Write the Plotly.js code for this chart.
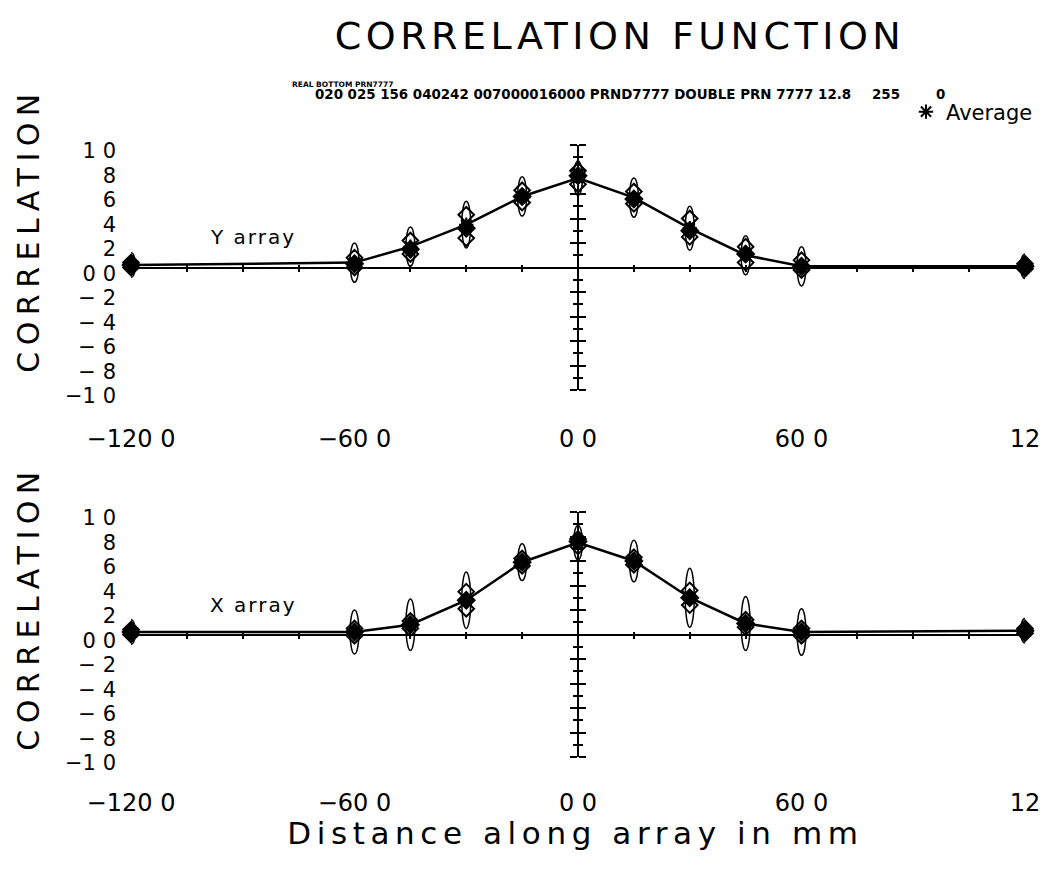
<!DOCTYPE html>
<html>
<head>
<meta charset="utf-8">
<script src="https://cdn.plot.ly/plotly-3.0.1.min.js"></script>
<style>body{margin:0;background:#fff}</style>
</head>
<body>
<div id="chart" style="width:1048px;height:878px"></div>
<script>
// ---------- data ----------
const distance = [-120, -60, -45, -30, -15, 0, 15, 30, 45, 60, 120];

const yArrayAverage = [0.02, 0.04, 0.17, 0.35, 0.58, 0.73, 0.57, 0.32, 0.10, 0.01, 0.01];
const yArrayRunA    = [0.02, 0.03, 0.15, 0.32, 0.58, 0.75, 0.56, 0.30, 0.11, 0.01, 0.01];
const yArrayRunB    = [0.04, 0.08, 0.22, 0.43, 0.63, 0.79, 0.62, 0.40, 0.17, 0.06, 0.03];
const yArrayRunC    = [0.00, 0.00, 0.11, 0.24, 0.53, 0.68, 0.52, 0.25, 0.04, -0.02, -0.01];
const yArraySpread  = [0.10, 0.16, 0.16, 0.19, 0.16, 0.14, 0.16, 0.18, 0.16, 0.16, 0.10];

const xArrayAverage = [0.02, 0.02, 0.08, 0.28, 0.59, 0.75, 0.60, 0.30, 0.09, 0.02, 0.03];
const xArrayRunA    = [0.02, 0.02, 0.08, 0.28, 0.59, 0.76, 0.60, 0.30, 0.09, 0.02, 0.03];
const xArrayRunB    = [0.04, 0.05, 0.11, 0.35, 0.62, 0.78, 0.63, 0.36, 0.12, 0.05, 0.05];
const xArrayRunC    = [0.00, -0.01, 0.05, 0.21, 0.56, 0.72, 0.57, 0.24, 0.06, -0.01, 0.01];
const xArraySpread  = [0.10, 0.18, 0.21, 0.23, 0.15, 0.14, 0.17, 0.24, 0.22, 0.19, 0.10];

const xTickValues = [-120, -60, 0, 60, 120];
const xTickLabels = ['\u2212120 0', '\u221260 0', '0 0', '60 0', '12'];
const yTickValues = [-1, -0.8, -0.6, -0.4, -0.2, 0, 0.2, 0.4, 0.6, 0.8, 1];
const yTickLabels = ['\u22121 0', '\u2212 8', '\u2212 6', '\u2212 4', '\u2212 2', '0 0', '2', '4', '6', '8', '1 0'];

const titleText = 'CORRELATION FUNCTION';
const headerLine1 = 'REAL BOTTOM PRN7777';
const headerLine2 = '020 025 156 040242 007000016000 PRND7777 DOUBLE PRN 7777 12.8';
const headerField3 = '255';
const headerField4 = '0';
const yTitleText = 'CORRELATION';
const xTitleText = 'Distance along array in mm';
const panelLabels = ['Y array', 'X array'];

// ---------- layout geometry ----------
const W = 1048, H = 878;
const xDomain = [131 / W, 1025 / W];
const topDomain = [1 - 390 / H, 1 - 145 / H];
const botDomain = [1 - 757 / H, 1 - 512 / H];
const xRange = [-120, 120];
const yRange = [-1, 1];
const zeroXPos = (xDomain[0] + xDomain[1]) / 2;
const FONT = 'DejaVu Sans';
const BLACK = '#000';

const traces = [];
const shapes = [];

// ax: axis ids; the overlay axes share identical ranges with the main ones
function addPanel(ax, avg, runA, runB, runC, spread, legend) {
  const base = {x: distance, cliponaxis: false, hoverinfo: 'skip'};
  traces.push(Object.assign({}, base, {
    xaxis: ax.x2, yaxis: ax.y2,
    y: runB, mode: 'markers', name: 'run B', showlegend: false,
    marker: {symbol: 'diamond-open', size: 12, color: BLACK, line: {width: 2, color: BLACK}}
  }));
  traces.push(Object.assign({}, base, {
    xaxis: ax.x3, yaxis: ax.y3,
    y: runC, mode: 'markers', name: 'run C', showlegend: false,
    marker: {symbol: 'diamond-open', size: 12, color: BLACK, line: {width: 2, color: BLACK}}
  }));
  traces.push(Object.assign({}, base, {
    xaxis: ax.x, yaxis: ax.y,
    y: runA, mode: 'markers', name: 'run A', showlegend: false,
    marker: {symbol: 'diamond', size: 15, color: BLACK}
  }));
  traces.push(Object.assign({}, base, {
    xaxis: ax.x, yaxis: ax.y,
    y: avg, mode: 'lines', name: 'Average line', showlegend: false,
    line: {color: BLACK, width: 2.5}
  }));
  traces.push(Object.assign({}, base, {
    xaxis: ax.x, yaxis: ax.y,
    y: avg, mode: 'markers', name: 'Average', showlegend: legend,
    marker: {symbol: 'asterisk-open', size: 12, color: BLACK, line: {width: 2, color: BLACK}}
  }));
  distance.forEach((d, i) => {
    shapes.push({
      type: 'circle', xref: ax.x, yref: ax.y, layer: 'above',
      x0: d - 1.2, x1: d + 1.2, y0: avg[i] - spread[i], y1: avg[i] + spread[i],
      line: {color: BLACK, width: 1.5}
    });
  });
}

addPanel({x: 'x', y: 'y', x2: 'x2', y2: 'y2', x3: 'x3', y3: 'y3'},
  yArrayAverage, yArrayRunA, yArrayRunB, yArrayRunC, yArraySpread, true);
addPanel({x: 'x4', y: 'y4', x2: 'x5', y2: 'y5', x3: 'x6', y3: 'y6'},
  xArrayAverage, xArrayRunA, xArrayRunB, xArrayRunC, xArraySpread, false);

function mainX(anchor, standoff) {
  return {domain: xDomain, anchor: anchor, range: xRange, showgrid: false, zeroline: false,
    showline: false, ticks: '', tickmode: 'array', tickvals: xTickValues, ticktext: xTickLabels,
    tickfont: {family: FONT, size: 24, color: BLACK}, ticklabelstandoff: standoff,
    automargin: false, fixedrange: true};
}
function mainY(anchor, domain) {
  return {domain: domain, anchor: anchor, range: yRange, showgrid: false, zeroline: true,
    zerolinecolor: BLACK, zerolinewidth: 2, showline: false, ticks: '', tickmode: 'array',
    tickvals: yTickValues, ticktext: yTickLabels, tickfont: {family: FONT, size: 21, color: BLACK},
    ticklabelstandoff: 14, ticklabelshift: 6, automargin: false, fixedrange: true};
}
// vertical axis drawn at x = 0, one copy per side so the ticks cross the line
function vertAxis(over, side, showline) {
  return {overlaying: over, anchor: 'free', position: zeroXPos, side: side, range: yRange,
    showgrid: false, zeroline: false, showline: showline, linecolor: BLACK, linewidth: 2,
    ticks: 'outside', ticklen: 7, tickwidth: 2, tickcolor: BLACK, tickmode: 'linear', tick0: -1, dtick: 0.2,
    showticklabels: false, automargin: false, fixedrange: true,
    minor: {ticks: 'outside', tick0: 0, dtick: 0.1, ticklen: 4, tickwidth: 2, tickcolor: BLACK}};
}
// small ticks every 15 mm along the zero line, one copy per side
function zeroTickAxis(over, domain, side) {
  const pos = (domain[0] + domain[1]) / 2;
  return {overlaying: over, anchor: 'free', position: pos, side: side, range: xRange,
    showgrid: false, zeroline: false, showline: false, ticks: 'outside',
    ticklen: 3, tickwidth: 2, tickcolor: BLACK, tickmode: 'linear', tick0: 0, dtick: 15,
    showticklabels: false, automargin: false, fixedrange: true};
}

const spacing = {};
spacing[titleText] = 4.5;
spacing[yTitleText] = 6.5;
spacing[xTitleText] = 5.6;
spacing[panelLabels[0]] = 2;
spacing[panelLabels[1]] = 2;

function ann(text, x, y, size, extra) {
  return Object.assign({text: text, xref: 'paper', yref: 'paper', x: x / W, y: 1 - y / H,
    showarrow: false, xanchor: 'center', yanchor: 'middle',
    font: {family: FONT, size: size, color: BLACK}}, extra || {});
}
const boldFont = size => ({family: FONT, size: size, color: BLACK, weight: 'bold'});

const layout = {
  width: W, height: H,
  margin: {l: 0, r: 0, t: 0, b: 0},
  paper_bgcolor: '#fff', plot_bgcolor: '#fff',
  title: {text: titleText, x: 620 / W, xanchor: 'center', xref: 'container',
    y: 1 - 36 / H, yanchor: 'middle', yref: 'container',
    font: {family: FONT, size: 38, color: BLACK}},
  showlegend: true,
  legend: {x: 906 / W, y: 1 - 112 / H, xanchor: 'left', yanchor: 'middle',
    font: {family: FONT, size: 21, color: BLACK}, bgcolor: 'rgba(0,0,0,0)', borderwidth: 0},
  xaxis: mainX('y', 32),
  yaxis: mainY('x', topDomain),
  yaxis2: vertAxis('y', 'left', true),
  yaxis3: vertAxis('y', 'right', false),
  xaxis2: zeroTickAxis('x', topDomain, 'bottom'),
  xaxis3: zeroTickAxis('x', topDomain, 'top'),
  xaxis4: mainX('y4', 29),
  yaxis4: mainY('x4', botDomain),
  yaxis5: vertAxis('y4', 'left', true),
  yaxis6: vertAxis('y4', 'right', false),
  xaxis5: zeroTickAxis('x4', botDomain, 'bottom'),
  xaxis6: zeroTickAxis('x4', botDomain, 'top'),
  shapes: shapes,
  annotations: [
    ann(headerLine1, 290, 84, 7.5, {xanchor: 'left', font: boldFont(7.5)}),
    ann(headerLine2, 313, 95, 13.4, {xanchor: 'left', font: boldFont(13.4)}),
    ann(headerField3, 870, 95, 13.4, {xanchor: 'left', font: boldFont(13.4)}),
    ann(headerField4, 934, 95, 13.4, {xanchor: 'left', font: boldFont(13.4)}),
    ann(panelLabels[0], 253, 237, 20),
    ann(panelLabels[1], 253, 605, 20),
    ann(yTitleText, 28, 230, 30, {textangle: -90}),
    ann(yTitleText, 28, 608, 30, {textangle: -90}),
    ann(xTitleText, 575, 833, 31)
  ]
};

Plotly.newPlot('chart', traces, layout, {staticPlot: true, displayModeBar: false}).then(gd => {
  gd.querySelectorAll('text').forEach(t => {
    const s = spacing[t.textContent];
    if (s) t.style.letterSpacing = s + 'px';
  });
});
</script>
</body>
</html>
